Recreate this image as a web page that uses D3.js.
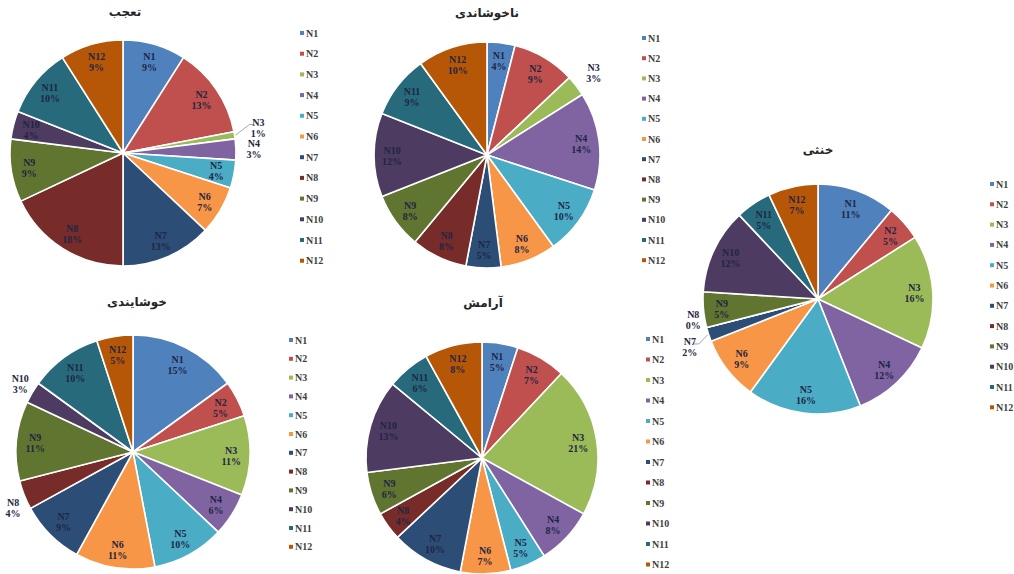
<!DOCTYPE html>
<html>
<head>
<meta charset="utf-8">
<script src="https://cdn.jsdelivr.net/npm/d3@7/dist/d3.min.js"></script>
<style>
  html, body { margin: 0; padding: 0; background: #ffffff; }
  svg { display: block; }
</style>
</head>
<body>
<svg id="chart" width="1014" height="574"></svg>
<script>
// ---- data ----
const categories = ["N1","N2","N3","N4","N5","N6","N7","N8","N9","N10","N11","N12"];
const titles = ["تعجب", "ناخوشاندی", "خنثی", "خوشایندی", "آرامش"];
const taajob     = [9, 13, 1, 3, 4, 7, 13, 18, 9, 4, 10, 9];
const nakhoshandi = [4, 9, 3, 14, 10, 8, 5, 8, 8, 12, 9, 10];
const khonsa     = [11, 5, 16, 12, 16, 9, 2, 0, 5, 12, 5, 7];
const khoshayandi = [15, 5, 11, 6, 10, 11, 9, 4, 11, 3, 10, 5];
const aramesh    = [5, 7, 21, 8, 5, 7, 10, 4, 6, 13, 6, 8];
const seriesList = [taajob, nakhoshandi, khonsa, khoshayandi, aramesh];

const palette = ["#4F81BD","#C0504D","#9BBB59","#8064A2","#4BACC6","#F79646",
                 "#2C4D75","#772C2A","#5F7530","#4D3B62","#276A7C","#B65708"];

// ---- layout (positions & styles) ----
const layouts = [
  {cx:123, cy:153, r:113, tx:125, ty:16, lx:302, ly:33, ls:20.7,
   outside:{N3:{off:14, dy:-4, dx:0, leader:true}, N4:{off:8, dy:0, dx:0}}},
  {cx:487, cy:155, r:113, tx:487, ty:17, lx:644, ly:38, ls:20.2,
   outside:{N3:{off:12, dy:0, dx:0}}},
  {cx:818, cy:299, r:115, tx:818, ty:154, lx:992, ly:184, ls:20.3,
   outside:{N8:{off:10, dy:-13, dx:6}, N7:{off:14, dy:5, dx:4, leader:true}}},
  {cx:133, cy:452, r:117, tx:137, ty:306, lx:291, ly:340, ls:18.8,
   outside:{N10:{off:4, dy:-2, dx:0}, N8:{off:2, dy:8, dx:0}}},
  {cx:482, cy:458, r:116, tx:483, ty:307, lx:648, ly:339, ls:20.5,
   outside:{}}
];

const svg = d3.select("#chart");
const color = d3.scaleOrdinal().domain(categories).range(palette);
const pie = d3.pie().sort(null).value(d => d.v);

seriesList.forEach((vals, i) => {
  const L = layouts[i];
  const data = categories.map((c, k) => ({c, v: vals[k]}));
  const arcs = pie(data);
  const g = svg.append("g").attr("transform", `translate(${L.cx},${L.cy})`);
  const arc = d3.arc().innerRadius(0).outerRadius(L.r);

  g.selectAll("path").data(arcs).enter().append("path")
    .attr("d", arc)
    .attr("fill", d => color(d.data.c))
    .attr("stroke", "#ffffff")
    .attr("stroke-width", 1.6)
    .attr("stroke-linejoin", "round");

  // labels
  arcs.forEach(a => {
    const mid = (a.startAngle + a.endAngle) / 2;
    const o = L.outside[a.data.c];
    let rr = o ? L.r + o.off + 10 : L.r * 0.84;
    let x = Math.sin(mid) * rr + (o ? o.dx : 0);
    let y = -Math.cos(mid) * rr + (o ? o.dy : 0);
    if (o && o.leader) {
      const ex = Math.sin(mid) * (L.r + 1), ey = -Math.cos(mid) * (L.r + 1);
      const side = Math.sin(mid) >= 0 ? 1 : -1;
      g.append("path")
        .attr("d", `M${ex},${ey} L${x - side*9},${y - 3} L${x - side*4},${y - 3}`)
        .attr("fill", "none").attr("stroke", "#8c8c8c").attr("stroke-width", 0.8);
    }
    const t = g.append("text")
      .attr("x", x).attr("y", y)
      .attr("text-anchor", "middle")
      .attr("font-family", "'Liberation Serif', 'Times New Roman', serif")
      .attr("font-weight", "bold")
      .attr("font-size", 10)
      .attr("fill", "#1f2544");
    t.append("tspan").attr("x", x).attr("dy", "-0.15em").text(a.data.c);
    t.append("tspan").attr("x", x).attr("dy", "1.1em").text(a.data.v + "%");
  });

  // title
  svg.append("text")
    .attr("x", L.tx).attr("y", L.ty)
    .attr("text-anchor", "middle")
    .attr("font-family", "'DejaVu Sans', sans-serif")
    .attr("font-weight", "bold")
    .attr("font-size", 12)
    .attr("fill", "#262626")
    .text(titles[i]);

  // legend
  const lg = svg.append("g");
  categories.forEach((c, k) => {
    const y = L.ly + k * L.ls;
    lg.append("rect").attr("x", L.lx - 2).attr("y", y - 2).attr("width", 4).attr("height", 4)
      .attr("fill", color(c));
    lg.append("text").attr("x", L.lx + 4).attr("y", y + 3.5)
      .attr("font-family", "'Liberation Serif', 'Times New Roman', serif")
      .attr("font-weight", "bold")
      .attr("font-size", 10)
      .attr("fill", "#404040")
      .text(c);
  });
});
</script>
</body>
</html>
